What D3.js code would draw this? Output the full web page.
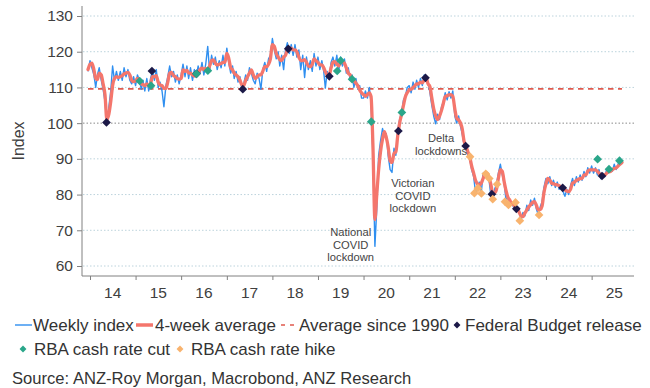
<!DOCTYPE html>
<html><head><meta charset="utf-8">
<script src="https://cdn.jsdelivr.net/npm/d3@7"></script>
<style>body{margin:0;background:#fff}svg{display:block;font-family:"Liberation Sans",Arial,sans-serif}</style>
</head><body><svg id="c" width="650" height="388"></svg>
<script>
// ---- DATA (semi-monthly readings: 16 Dec 2013, then 1st & 16th of each month to 1 Sep 2025) ----
const weeklyIndex = [
114.5,
117.5,115.5,113.5,110,113.5,115.5,112,109.5,106,99.8,104.5,109,116,112,114.5,112,114.5,112,115.5,113,115,112,111,113,
110.5,113.5,112,109.5,112,109,112.5,109,112.5,114.6,112,115,110,111.5,109,104.6,110.5,113,116,113,114.5,111.5,113.5,111,
113.5,116.5,113,116,112.5,115.5,112,115,113,116,114,117,113.5,116.5,121.5,114.5,119,116.5,118.5,115,117.5,115.5,119,116,
121,117,114,116,112.5,114.5,111.5,113,109.5,111,113.5,112,115.5,114,112,111,114,112.5,109.5,115,117,114.5,118,119,
123.7,120.5,118,120,116,119,115,120.5,122.5,119.5,122,119,122,118.5,120.5,115,119,112.8,118.5,115,117.5,114.5,119.5,116,
118.5,115,117.5,114.5,109.8,114.5,112.5,117,118.5,116,119,114.5,118.5,116,118,114,115.5,112,113.5,110,112.5,109.5,110.5,107,
107,109,107,110,106,91,65.5,76,91,95,98.5,96.5,97,91,87,86.2,93,91,98,101,103,106.5,107.5,110,
110.5,108.5,111.5,109.5,112,110,112.5,110.5,113.5,112,111.5,108.5,105,102,99.8,102.5,101,104.5,106,108.5,106.5,108.8,107,109,
102,100,102,99,97,94,93.5,91,90,87,85,80.5,81.5,83.5,80.5,86,85.5,84.5,84.5,80,78.8,81.5,83,86,
88.5,85.5,83,78.2,79.5,77.1,78,76.5,77.8,76,75.5,72.8,75,74,77,75.5,78.5,77,79,76,74.3,76.5,78,82,
84.5,83,85,82.5,84,82,83.5,81.5,82.5,81,79.5,81.5,80,82.5,84.5,82.5,85,83.5,85.5,84,86.5,85,87.5,86,
88,86,87.5,85.5,87,84.5,86,85,87,86,87.5,86.5,88.5,87,88.5,90.2,88.5
];
const fourWeekAverage = [
115,
116.5,116.8,115,112.5,112.2,114,113.5,111,108,101,102.5,106,110.5,112.5,113,112.8,113,113.3,113.8,114,114.2,113.5,112,111.6,
111.8,112.5,111.8,111,110.8,110.5,111,110.5,111,113,113,113.3,111.5,110.7,110.5,109.8,109.7,111.5,114,114.2,113.3,113,112.5,112.3,
112.5,114.9,114.5,114.8,114,114,113.5,113.2,113.8,114,115,115.4,115,115.3,114.8,116,117.5,117.7,116.8,116.3,116.5,116.7,117,117,
119.5,118.2,115.5,114.9,114,113.5,113,112,110.8,110.5,112,113,114,114.9,113.5,112.5,113,113.5,113.5,114.5,115.8,115.8,116.5,118,
122,121.5,119.5,118.5,117.8,117.5,118.5,119,120.5,120.8,121,120.5,120.5,120,118.5,117.5,117.5,117.8,117,116,115.8,116.5,118,117.5,
117,116.3,116.3,115.5,114.4,113.5,113.5,115.5,117,117.2,116.5,116,117,117.2,116.8,115.5,114,113.5,112.5,112,111.2,110.5,109.3,108.5,
108,107.5,108,108.5,107.5,94,73,80,87,92,95.5,97.6,96,93.4,89.5,89,91.5,92,96.5,100,102.5,105,107.4,108.5,
109.3,109.5,110,110.5,111,111,111.5,111.3,112,112.7,111,110.2,107,104,102,101,102,103.5,105.5,107.4,107.7,107.9,108,107.5,
104,101.4,100.9,100,98.5,95,93.5,92,90.5,88,86,84,83,82.7,83.2,84.5,86,86,85,83,80.5,80.5,81.5,84.5,
87,86.5,83.5,81,79.4,78.5,77.5,77.2,76.5,76.2,75,74,73.8,74.8,75.7,76.5,77.2,77.8,78,77,75.7,75.8,76.8,80.5,
83,84.5,84,83.2,83,82.8,82.7,82.5,82,81.8,81.3,81,80.8,81.5,83.2,83.5,84,84.2,84.5,84.5,85.5,85.5,86.5,86.9,
86.9,86.9,86.9,86.5,86,85.5,85.5,85.5,86,86.4,86.5,87,87.3,87.5,88,88.5,89
];
const averageSince1990 = 109.6;

const budgetDates  = ["2014-05-13","2015-05-12","2016-05-03","2017-05-09","2018-05-08","2019-04-02","2020-10-06","2021-05-11","2022-03-29","2022-10-25","2023-05-09","2024-05-14","2025-03-25"];
const budgetValues = [100.2,114.6,113.8,109.5,120.8,113.1,97.8,112.7,93.6,80.1,76.0,81.9,85.2];
const cutDates  = ["2015-02-03","2015-05-05","2016-05-03","2016-08-02","2019-06-04","2019-07-02","2019-10-01","2020-03-03","2020-11-03","2025-02-18","2025-05-20","2025-08-12"];
const cutValues = [111.8,110.5,113.8,114.7,114.6,117.5,112.3,100.4,103.0,89.9,87.1,89.5];
const hikeDates  = ["2022-05-03","2022-06-07","2022-07-05","2022-08-02","2022-09-06","2022-10-04","2022-11-01","2022-12-06","2023-02-07","2023-03-07","2023-05-02","2023-06-06","2023-11-07"];
const hikeValues = [90.6,80.4,81.8,80.3,85.8,84.5,78.7,82.9,78.0,77.1,77.8,72.7,74.3];

const yTicks = [60,70,80,90,100,110,120,130];
const yearTicks = [2014,2015,2016,2017,2018,2019,2020,2021,2022,2023,2024,2025];
const yearLabels = ["14","15","16","17","18","19","20","21","22","23","24","25"];

const annotationText = [["National","COVID","lockdown"],["Victorian","COVID","lockdown"],["Delta","lockdowns"]];
const annotationDates = ["2019-09-20","2021-01-30","2021-09-13"];
const annotationValues = [69.6,83.3,95.8];

// ---- build dates for the semi-monthly series ----
const parse = d3.timeParse("%Y-%m-%d");
const periods = [new Date(2013,11,16)];
for (let y = 2014; y <= 2025; y++) for (let m = 0; m < 12; m++) {
  if (y === 2025 && m > 8) break;
  periods.push(new Date(y,m,1));
  if (!(y === 2025 && m === 8)) periods.push(new Date(y,m,16));
}
const weekly = periods.map((d,i)=>({d, v: weeklyIndex[i]})).filter(p=>p.v!=null);
const avg4 = periods.map((d,i)=>({d, v: fourWeekAverage[i]})).filter(p=>p.v!=null);

// ---- scales ----
const L = 82, R = 634, T = 6, B = 276;
const x0 = d3.scaleTime().domain([new Date(2014,0,1), new Date(2026,0,1)]).range([90, 90+12*45.6]);
const x = d3.scaleTime().domain([x0.invert(L), x0.invert(R)]).range([L, R]);
const y = d3.scaleLinear().domain([57.2, 132.8]).range([B, T]);

const svg = d3.select("#c");
const txt = "#404040";

// gridlines
svg.append("g").selectAll("line").data(yTicks).join("line")
  .attr("x1", L+1).attr("x2", R).attr("y1", d=>y(d)).attr("y2", d=>y(d))
  .attr("stroke", d=> d===100 ? "#8a8a8a" : "#bcd3dc")
  .attr("stroke-width", 1).attr("stroke-dasharray", "1.5,2");

// y axis
const ya = svg.append("g").attr("transform", `translate(${L},0)`)
  .call(d3.axisLeft(y).tickValues(yTicks).tickSize(5).tickPadding(4).tickSizeOuter(0));
ya.select(".domain").attr("stroke","#808080").attr("d", `M0,${T}V${B}`);
ya.selectAll(".tick line").attr("stroke","#808080");
ya.selectAll("text").attr("font-size", 15.5).attr("fill", txt).attr("font-family","Liberation Sans, Arial, sans-serif");

// x axis
const xa = svg.append("g").attr("transform", `translate(0,${B})`)
  .call(d3.axisBottom(x).tickValues(yearTicks.map(yr=>new Date(yr,0,1))).tickSize(4).tickFormat("").tickSizeOuter(0));
xa.select(".domain").attr("stroke","#808080").attr("d", `M${L},0H${R}`);
xa.selectAll(".tick line").attr("stroke","#808080");
svg.append("g").selectAll("text").data(yearTicks).join("text")
  .attr("x", (d)=>x(new Date(d,6,2))).attr("y", 298)
  .attr("text-anchor","middle").attr("font-size",15.5).attr("fill",txt)
  .text((d,i)=>yearLabels[i]);

// y label
svg.append("text").attr("transform","translate(24,141) rotate(-90)")
  .attr("text-anchor","middle").attr("font-size",16).attr("fill",txt).text("Index");

// average since 1990
svg.append("line").attr("x1", x(periods[0])).attr("x2", x(periods[periods.length-1]))
  .attr("y1", y(averageSince1990)).attr("y2", y(averageSince1990))
  .attr("stroke","#df5a4e").attr("stroke-width",1.6).attr("stroke-dasharray","5.5,4.5");

// lines
const line = d3.line().x(p=>x(p.d)).y(p=>y(p.v));
svg.append("path").datum(weekly).attr("d", line).attr("fill","none")
  .attr("stroke","#2f8ff0").attr("stroke-width",1.4).attr("stroke-linejoin","round");
svg.append("path").datum(avg4).attr("d", line.curve(d3.curveMonotoneX)).attr("fill","none")
  .attr("stroke","#f4766c").attr("stroke-width",3.3).attr("stroke-linejoin","round").attr("stroke-linecap","round");

// markers
const diamond = d3.symbol(d3.symbolSquare, 38)();
function markers(dates, vals, color){
  svg.append("g").selectAll("path").data(dates).join("path")
    .attr("d", diamond)
    .attr("transform", (d,i)=>`translate(${x(parse(d))},${y(vals[i])}) rotate(45)`)
    .attr("fill", color);
}
markers(budgetDates, budgetValues, "#1c1947");
markers(hikeDates, hikeValues, "#f8b36e");
markers(cutDates, cutValues, "#2aa68a");

// annotations (each line its own text element)
const ann = svg.append("g").attr("text-anchor","middle").attr("font-size",11.2).attr("fill","#444");
annotationText.forEach((lines,k)=>{
  lines.forEach((s,j)=>ann.append("text").attr("x", x(parse(annotationDates[k])))
    .attr("y", y(annotationValues[k]) + 4 + j*12.8).text(s));
});

// legend
const lg = svg.append("g").attr("font-size",17).attr("fill","#333");
const r1 = 325, r2 = 349;
lg.append("line").attr("x1",15).attr("x2",32).attr("y1",r1).attr("y2",r1).attr("stroke","#2f8ff0").attr("stroke-width",1.4);
lg.append("text").attr("x",33).attr("y",r1+6).text("Weekly index");
lg.append("line").attr("x1",136).attr("x2",153).attr("y1",r1).attr("y2",r1).attr("stroke","#f4766c").attr("stroke-width",3.5);
lg.append("text").attr("x",155).attr("y",r1+6).text("4-week average");
lg.append("line").attr("x1",281).attr("x2",295).attr("y1",r1).attr("y2",r1).attr("stroke","#df5a4e").attr("stroke-width",1.6).attr("stroke-dasharray","4,5");
lg.append("text").attr("x",299).attr("y",r1+6).text("Average since 1990");
const lgDiamond = d3.symbol(d3.symbolSquare, 24)();
lg.append("path").attr("d",lgDiamond).attr("transform",`translate(457,${r1}) rotate(45)`).attr("fill","#1c1947");
lg.append("text").attr("x",465).attr("y",r1+6).text("Federal Budget release");
lg.append("path").attr("d",lgDiamond).attr("transform",`translate(23,${r2}) rotate(45)`).attr("fill","#2aa68a");
lg.append("text").attr("x",34).attr("y",r2+6).text("RBA cash rate cut");
lg.append("path").attr("d",lgDiamond).attr("transform",`translate(180,${r2}) rotate(45)`).attr("fill","#f8b36e");
lg.append("text").attr("x",191).attr("y",r2+6).text("RBA cash rate hike");
lg.append("text").attr("x",12).attr("y",384).attr("font-size",16.6).text("Source: ANZ-Roy Morgan, Macrobond, ANZ Research");
</script></body></html>
